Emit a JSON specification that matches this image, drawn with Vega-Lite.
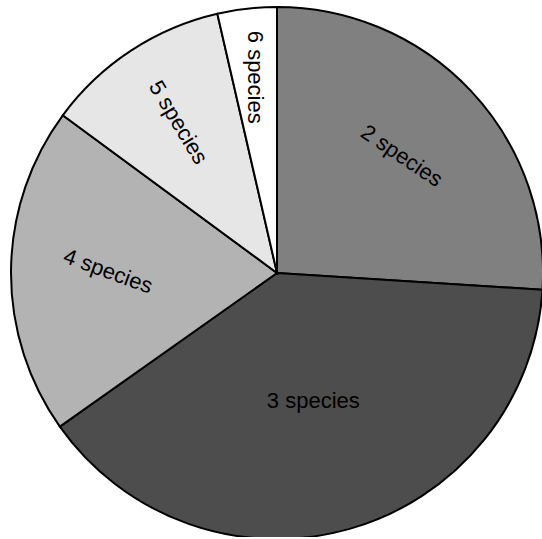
{
  "$schema": "https://vega.github.io/schema/vega-lite/v6.json",
  "width": 530,
  "height": 528,
  "padding": {"left": 12, "top": 9, "right": 0, "bottom": 0},
  "autosize": {"type": "none"},
  "background": "white",
  "config": {"view": {"stroke": null}},
  "data": {
    "values": [
      {"cat": "2 species", "pct": 26.0},
      {"cat": "3 species", "pct": 39.2},
      {"cat": "4 species", "pct": 19.9},
      {"cat": "5 species", "pct": 11.3},
      {"cat": "6 species", "pct": 3.6}
    ]
  },
  "encoding": {
    "theta": {"field": "pct", "type": "quantitative", "stack": true},
    "order": {"field": "cat", "type": "ordinal", "sort": "ascending"}
  },
  "layer": [
    {
      "mark": {"type": "arc", "outerRadius": 266, "stroke": "black", "strokeWidth": 2},
      "encoding": {
        "color": {
          "field": "cat",
          "type": "nominal",
          "scale": {"domain": ["2 species", "3 species", "4 species", "5 species", "6 species"], "range": ["#808080", "#4d4d4d", "#b3b3b3", "#e6e6e6", "#ffffff"]},
          "legend": null
        }
      }
    },
    {
      "mark": {"type": "text", "radius": 171, "angle": 34, "font": "Liberation Sans", "fontSize": 22, "color": "black", "align": "center", "baseline": "middle"},
      "encoding": {"text": {"condition": {"test": "datum.cat === '2 species'", "field": "cat"}, "value": ""}}
    },
    {
      "mark": {"type": "text", "radius": 133, "angle": 0, "font": "Liberation Sans", "fontSize": 22, "color": "black", "align": "center", "baseline": "middle"},
      "encoding": {"text": {"condition": {"test": "datum.cat === '3 species'", "field": "cat"}, "value": ""}}
    },
    {
      "mark": {"type": "text", "radius": 169, "angle": 20, "font": "Liberation Sans", "fontSize": 22, "color": "black", "align": "center", "baseline": "middle"},
      "encoding": {"text": {"condition": {"test": "datum.cat === '4 species'", "field": "cat"}, "value": ""}}
    },
    {
      "mark": {"type": "text", "radius": 180, "angle": 59, "font": "Liberation Sans", "fontSize": 22, "color": "black", "align": "center", "baseline": "middle"},
      "encoding": {"text": {"condition": {"test": "datum.cat === '5 species'", "field": "cat"}, "value": ""}}
    },
    {
      "mark": {"type": "text", "radius": 197, "angle": 90, "font": "Liberation Sans", "fontSize": 22, "color": "black", "align": "center", "baseline": "middle"},
      "encoding": {"text": {"condition": {"test": "datum.cat === '6 species'", "field": "cat"}, "value": ""}}
    }
  ]
}
